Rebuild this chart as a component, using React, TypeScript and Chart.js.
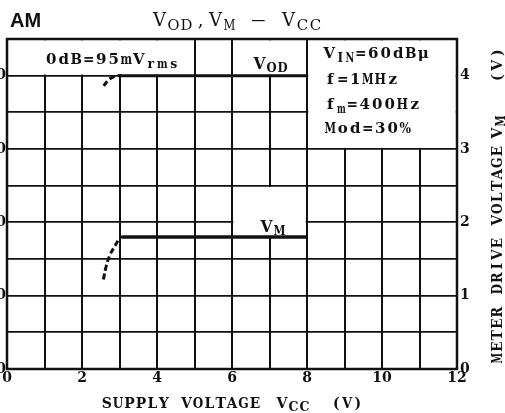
import React, { useEffect, useRef } from 'react';
import { Chart, registerables } from 'chart.js';

Chart.register(...registerables);

// ---- data ----
const xTickValues = [0, 1, 2, 3, 4, 5, 6, 7, 8, 9, 10, 11, 12];
const xTickLabels = ['0', '', '2', '', '4', '', '6', '', '8', '', '10', '', '12'];
const rightTickValues = [0, 0.5, 1, 1.5, 2, 2.5, 3, 3.5, 4, 4.5];
const rightTickLabels = ['0', '', '1', '', '2', '', '3', '', '4', ''];
const leftTickValues = [0, 1, 2, 3, 4];
const leftTickLabels = ['-40', '-30', '-20', '-10', '0'];

const vodCurveX = [2.58, 2.7, 2.82, 2.95, 3.07];
const vodCurveY = [3.86, 3.94, 3.98, 4.0, 4.0];
const vodLineX = [3.07, 8];
const vodLineY = [4.0, 4.0];

const vmCurveX = [2.57, 2.65, 2.75, 2.87, 3.0, 3.07];
const vmCurveY = [1.22, 1.41, 1.56, 1.67, 1.78, 1.81];
const vmLineX = [3.07, 8];
const vmLineY = [1.8, 1.8];

// annotation boxes [x0, x1, y0, y1] in data units
const noteBoxes = [
  [0, 5, 4, 4.5],
  [6, 8, 4, 4.5],
  [8, 12, 3, 4.5],
  [6, 8, 1.8, 2.5],
];

const toPts = (xs: number[], ys: number[]) => xs.map((x, i) => ({ x, y: ys[i] }));

const INK = '#111';
const SERIF = '"DejaVu Serif", serif';
const SHIFT = 30;
const W = 505 + SHIFT;
const H = 413;

type Part = [string, boolean?];
function drawRich(ctx: CanvasRenderingContext2D, parts: Part[], x: number, y: number,
  o: { font: string; sfont: string; adv: number; sadv: number; sdy: number }) {
  let cx = x;
  ctx.textAlign = 'center';
  ctx.textBaseline = 'alphabetic';
  for (const [s, sub] of parts) {
    ctx.font = sub ? o.sfont : o.font;
    const a = sub ? o.sadv : o.adv;
    for (const ch of s) {
      const w = ctx.measureText(ch).width;
      const maxW = a * 0.92;
      const px = cx + a / 2;
      const py = y + (sub ? o.sdy : 0);
      if (w > maxW) {
        ctx.save();
        ctx.translate(px, py);
        ctx.scale(maxW / w, 1);
        ctx.fillText(ch, 0, 0);
        ctx.restore();
      } else {
        ctx.fillText(ch, px, py);
      }
      cx += a;
    }
  }
  return cx;
}

const textPlugin = {
  id: 'annot',
  beforeDatasetsDraw(chart: any) {
    const ctx: CanvasRenderingContext2D = chart.ctx;
    const xs = chart.scales.x;
    const ys = chart.scales.y;
    ctx.save();
    ctx.fillStyle = '#fff';
    for (const [x0, x1, y0, y1] of noteBoxes) {
      const l = xs.getPixelForValue(x0) + 1.3;
      const r = xs.getPixelForValue(x1) - 1.3;
      const t = ys.getPixelForValue(y1) + 1.3;
      const b = ys.getPixelForValue(y0) - 1.1;
      ctx.fillRect(l, t, r - l, b - t);
    }
    const a = chart.chartArea;
    ctx.strokeStyle = INK;
    ctx.lineWidth = 2.5;
    ctx.strokeRect(a.left, a.top, a.right - a.left, a.bottom - a.top);
    ctx.restore();
  },
  afterDraw(chart: any) {
    const ctx: CanvasRenderingContext2D = chart.ctx;
    ctx.save();
    ctx.fillStyle = INK;
    const dx = SHIFT;
    // heading
    ctx.font = 'bold 20px "Liberation Sans", sans-serif';
    ctx.textAlign = 'left';
    ctx.textBaseline = 'alphabetic';
    ctx.fillText('AM', 10 + dx, 27);
    drawRich(ctx, [['V'], ['OD', true], [','], ['V'], ['M', true], [' '], ['—'], [' '], ['V'], ['CC', true]],
      152 + dx, 26, { font: `18px ${SERIF}`, sfont: `15px ${SERIF}`, adv: 15, sadv: 13, sdy: 3.5 });

    const box = { font: `bold 15px ${SERIF}`, sfont: `bold 12.5px ${SERIF}`, adv: 12.5, sadv: 11.5, sdy: 4 };
    drawRich(ctx, [['0dB=95mV'], ['rms', true]], 45 + dx, 64, box);
    drawRich(ctx, [['V'], ['OD', true]], 253 + dx, 69,
      { font: `bold 16px ${SERIF}`, sfont: `bold 13px ${SERIF}`, adv: 13, sadv: 11, sdy: 3 });
    const box3 = { font: `bold 15px ${SERIF}`, sfont: `bold 12px ${SERIF}`, adv: 12.5, sadv: 9.5, sdy: 4 };
    drawRich(ctx, [['V'], ['IN', true], ['=60dBμ']], 323 + dx, 58, box3);
    drawRich(ctx, [['f=1MHz']], 324 + dx, 84, box3);
    drawRich(ctx, [['f'], ['m', true], ['=400Hz']], 324 + dx, 109, box3);
    drawRich(ctx, [['Mod=30%']], 324 + dx, 133, box3);
    drawRich(ctx, [['V'], ['M', true]], 260 + dx, 232,
      { font: `bold 16px ${SERIF}`, sfont: `bold 13px ${SERIF}`, adv: 13, sadv: 13, sdy: 3 });

    // x axis title
    const ax = { font: `bold 14px ${SERIF}`, sfont: `bold 12.5px ${SERIF}`, adv: 11.4, sadv: 11, sdy: 3 };
    drawRich(ctx, [['SUPPLY VOLTAGE']], 101 + dx, 408, ax);
    drawRich(ctx, [['V'], ['CC', true]], 276 + dx, 408, { ...ax, adv: 12 });
    drawRich(ctx, [['(V)']], 331 + dx, 408, { ...ax, adv: 10.7 });

    // right axis title (rotated)
    ctx.translate(502 + dx, 364);
    ctx.rotate(-Math.PI / 2);
    const rt = { font: `bold 14px ${SERIF}`, sfont: `bold 12px ${SERIF}`, adv: 11.5, sadv: 12, sdy: 2.5 };
    drawRich(ctx, [['METER DRIVE VOLTAGE']], 0, 0, rt);
    drawRich(ctx, [['V'], ['M', true]], 225, 0, { ...rt, adv: 12 });
    drawRich(ctx, [['(V)']], 280, 0, { ...rt, adv: 12.5 });
    ctx.restore();
  },
};

export default function App() {
  const ref = useRef<HTMLCanvasElement>(null);
  useEffect(() => {
    if (!ref.current) return;
    const tickFont = { family: SERIF, size: 14, weight: 'bold' as const };
    const chart = new Chart(ref.current, {
      type: 'line',
      data: {
        datasets: [
          { data: toPts(vodLineX, vodLineY), borderColor: INK, borderWidth: 3, pointRadius: 0, xAxisID: 'x', yAxisID: 'y' },
          { data: toPts(vodCurveX, vodCurveY), borderColor: INK, borderWidth: 3, borderDash: [6, 3], pointRadius: 0, tension: 0.4, xAxisID: 'x', yAxisID: 'y' },
          { data: toPts(vmLineX, vmLineY), borderColor: INK, borderWidth: 3.5, pointRadius: 0, xAxisID: 'x', yAxisID: 'y' },
          { data: toPts(vmCurveX, vmCurveY), borderColor: INK, borderWidth: 3, borderDash: [6, 3], pointRadius: 0, tension: 0.4, xAxisID: 'x', yAxisID: 'y' },
        ],
      },
      options: {
        responsive: false,
        animation: false,
        devicePixelRatio: 1,
        layout: { padding: { top: 39, left: 0, right: 0, bottom: 0 } },
        plugins: { legend: { display: false }, tooltip: { enabled: false }, title: { display: false } },
        scales: {
          x: {
            type: 'linear', min: 0, max: 12, position: 'bottom',
            afterBuildTicks: (axis: any) => { axis.ticks = xTickValues.map((v) => ({ value: v })); },
            afterFit: (axis: any) => { axis.height = 44; },
            grid: { color: INK, lineWidth: 2, drawTicks: false },
            border: { display: false },
            ticks: {
              autoSkip: false, maxRotation: 0, padding: 1, color: INK, font: tickFont,
              callback: (v: any) => xTickLabels[xTickValues.indexOf(Number(v))] ?? '',
            },
          },
          y: {
            type: 'linear', min: 0, max: 4.5, position: 'right',
            afterBuildTicks: (axis: any) => { axis.ticks = rightTickValues.map((v) => ({ value: v })); },
            afterFit: (axis: any) => { axis.width = 48; },
            grid: { color: INK, lineWidth: 1.7, drawTicks: false },
            border: { display: false },
            ticks: {
              autoSkip: false, padding: 3, color: INK, font: tickFont,
              callback: (v: any) => rightTickLabels[rightTickValues.indexOf(Number(v))] ?? '',
            },
          },
          yL: {
            type: 'linear', min: 0, max: 4.5, position: 'left',
            afterBuildTicks: (axis: any) => { axis.ticks = leftTickValues.map((v) => ({ value: v })); },
            afterFit: (axis: any) => { axis.width = 37; },
            grid: { drawOnChartArea: false, drawTicks: false },
            border: { display: false },
            ticks: {
              autoSkip: false, padding: 1, color: INK, font: tickFont,
              callback: (v: any) => leftTickLabels[leftTickValues.indexOf(Number(v))] ?? '',
            },
          },
        },
      },
      plugins: [textPlugin],
    });
    return () => chart.destroy();
  }, []);

  return (
    <div style={{ position: 'fixed', left: 0, top: 0, width: 505, height: 413, overflow: 'hidden', background: '#fff' }}>
      <canvas ref={ref} width={W} height={H} style={{ position: 'absolute', left: -SHIFT, top: 0, width: W, height: H }} />
    </div>
  );
}
